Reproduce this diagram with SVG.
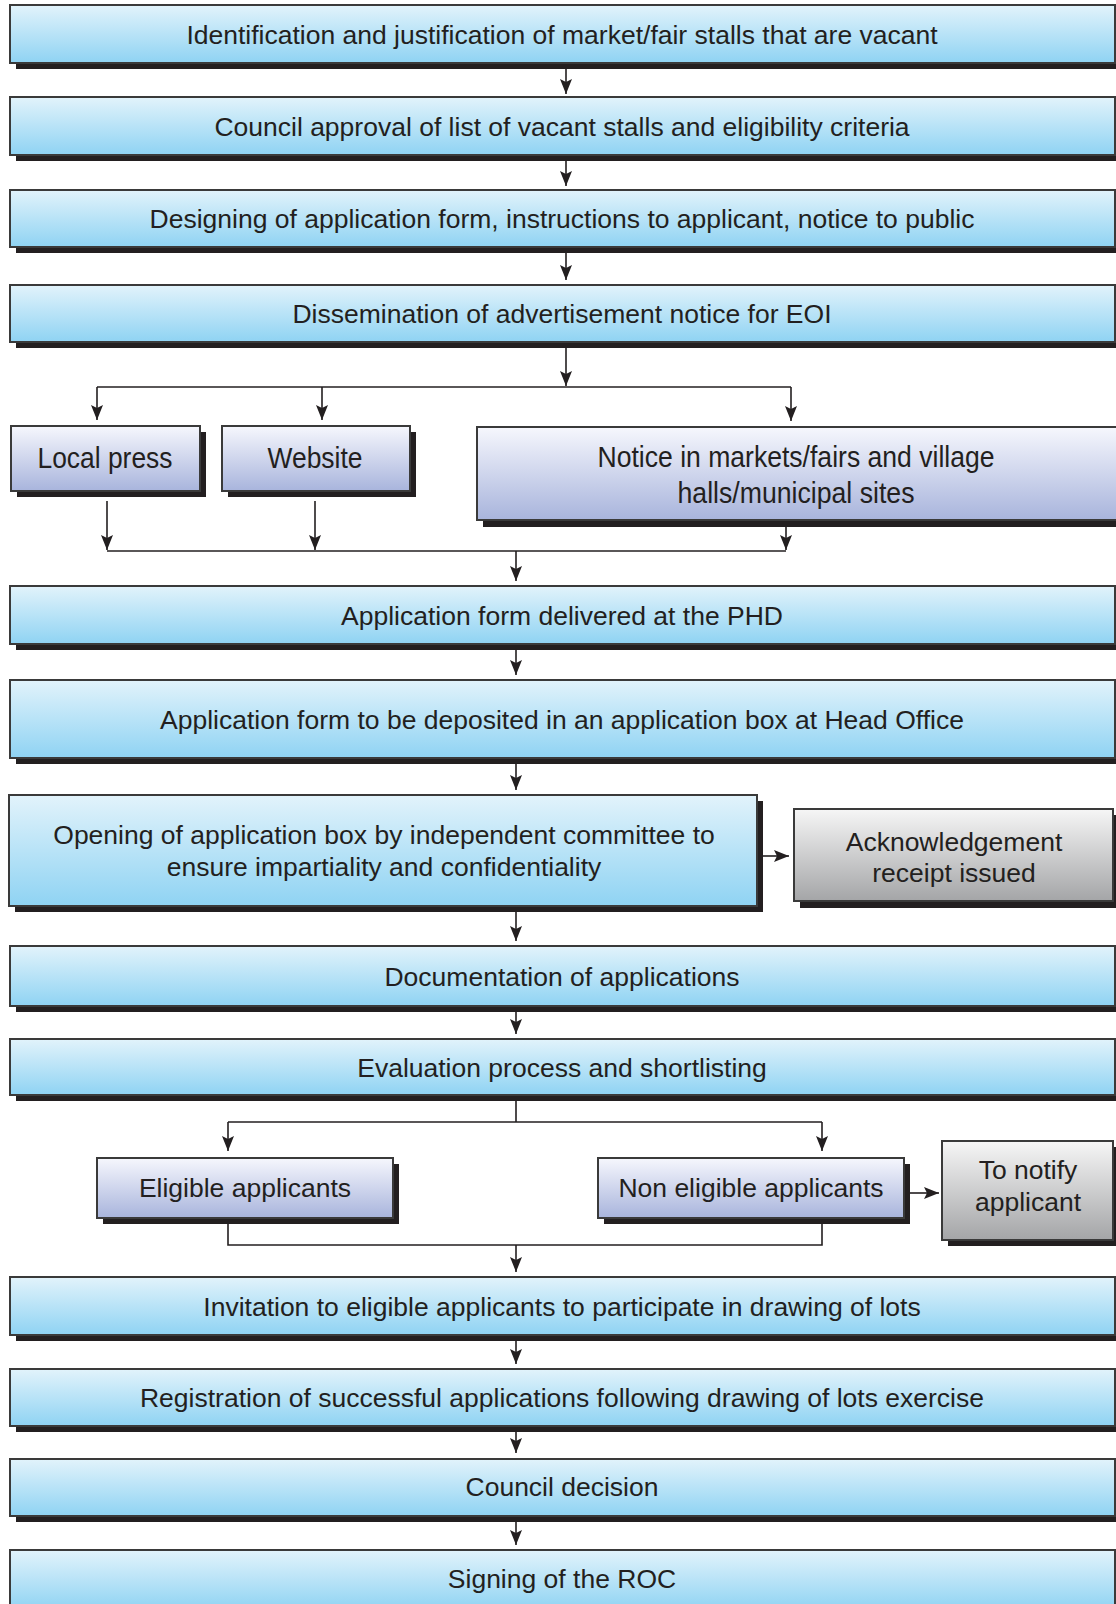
<svg xmlns="http://www.w3.org/2000/svg" width="1116" height="1604" viewBox="0 0 1116 1604">
<style>
.sh{fill:#231f20}
.bx{stroke:#3a3a3a;stroke-width:2}
.blue{fill:url(#gBlue)}
.lav{fill:url(#gLav)}
.gray{fill:url(#gGray)}
text{font-family:"Liberation Sans",Arial,sans-serif;font-size:26.5px;fill:#231f20;text-anchor:middle}
.cn{font-size:29px}
.ln{fill:none;stroke:#231f20;stroke-width:1.6}
.ar{fill:none;stroke:#231f20;stroke-width:1.6;marker-end:url(#ah)}
</style>
<defs>
<linearGradient id="gBlue" x1="0" y1="0" x2="0" y2="1"><stop offset="0" stop-color="#e2f3fb"/><stop offset="1" stop-color="#8fd3f3"/></linearGradient>
<linearGradient id="gLav" x1="0" y1="0" x2="0" y2="1"><stop offset="0" stop-color="#f6f7fd"/><stop offset="1" stop-color="#a8b4dc"/></linearGradient>
<linearGradient id="gGray" x1="0" y1="0" x2="0" y2="1"><stop offset="0" stop-color="#f6f6f6"/><stop offset="1" stop-color="#a4a5a7"/></linearGradient>
<marker id="ah" markerUnits="userSpaceOnUse" markerWidth="15" markerHeight="12" viewBox="0 0 15 12" refX="15" refY="6" orient="auto"><path d="M0,0 L15,6 L0,12 L3,6 Z" fill="#231f20"/></marker>
</defs>

<g id="connectors">
<path class="ar" d="M566,69 V94"/>
<path class="ar" d="M566,161 V186"/>
<path class="ar" d="M566,253 V280"/>
<path class="ar" d="M566,348 V386"/>
<path class="ln" d="M97,387 H791"/>
<path class="ar" d="M97,387 V420"/>
<path class="ar" d="M322,387 V420"/>
<path class="ar" d="M791,387 V421"/>
<path class="ar" d="M107,501 V550"/>
<path class="ar" d="M315,501 V550"/>
<path class="ar" d="M786,527 V550"/>
<path class="ln" d="M107,551 H786"/>
<path class="ar" d="M516,551 V581"/>
<path class="ar" d="M516,650 V675"/>
<path class="ar" d="M516,764 V790"/>
<path class="ar" d="M763,856 H789"/>
<path class="ar" d="M516,912 V941"/>
<path class="ar" d="M516,1012 V1034"/>
<path class="ln" d="M516,1101 V1122 M228,1122 H822"/>
<path class="ar" d="M228,1122 V1151"/>
<path class="ar" d="M822,1122 V1151"/>
<path class="ar" d="M910,1193 H939"/>
<path class="ln" d="M228,1224 V1245 H822 V1224"/>
<path class="ar" d="M516,1245 V1272"/>
<path class="ar" d="M516,1341 V1364"/>
<path class="ar" d="M516,1432 V1453"/>
<path class="ar" d="M516,1522 V1545"/>
</g>

<g id="n1"><rect class="sh" x="16" y="11" width="1105" height="58"/><rect class="bx blue" x="10" y="5" width="1105" height="58"/><text x="562" y="43.5">Identification and justification of market/fair stalls that are vacant</text></g>
<g id="n2"><rect class="sh" x="16" y="103" width="1105" height="58"/><rect class="bx blue" x="10" y="97" width="1105" height="58"/><text x="562" y="135.5">Council approval of list of vacant stalls and eligibility criteria</text></g>
<g id="n3"><rect class="sh" x="16" y="196" width="1105" height="57"/><rect class="bx blue" x="10" y="190" width="1105" height="57"/><text x="562" y="228">Designing of application form, instructions to applicant, notice to public</text></g>
<g id="n4"><rect class="sh" x="16" y="291" width="1105" height="57"/><rect class="bx blue" x="10" y="285" width="1105" height="57"/><text x="562" y="323">Dissemination of advertisement notice for EOI</text></g>

<g id="n5"><rect class="sh" x="17" y="432" width="189" height="65"/><rect class="bx lav" x="11" y="426" width="189" height="65"/><text class="cn" x="105" y="468" textLength="135" lengthAdjust="spacingAndGlyphs">Local press</text></g>
<g id="n6"><rect class="sh" x="228" y="432" width="188" height="65"/><rect class="bx lav" x="222" y="426" width="188" height="65"/><text class="cn" x="315" y="468" textLength="95" lengthAdjust="spacingAndGlyphs">Website</text></g>
<g id="n7"><rect class="sh" x="483" y="433" width="640" height="94"/><rect class="bx lav" x="477" y="427" width="640" height="93"/><text class="cn" x="796" y="467" textLength="397" lengthAdjust="spacingAndGlyphs">Notice in markets/fairs and village</text><text class="cn" x="796" y="503" textLength="237" lengthAdjust="spacingAndGlyphs">halls/municipal sites</text></g>

<g id="n8"><rect class="sh" x="16" y="592" width="1105" height="58"/><rect class="bx blue" x="10" y="586" width="1105" height="58"/><text x="562" y="625">Application form delivered at the PHD</text></g>
<g id="n9"><rect class="sh" x="16" y="686" width="1105" height="78"/><rect class="bx blue" x="10" y="680" width="1105" height="78"/><text x="562" y="729">Application form to be deposited in an application box at Head Office</text></g>
<g id="n10"><rect class="sh" x="15" y="801" width="748" height="111"/><rect class="bx blue" x="9" y="795" width="748" height="111"/><text x="384" y="844">Opening of application box by independent committee to</text><text x="384" y="876">ensure impartiality and confidentiality</text></g>
<g id="n11"><rect class="sh" x="800" y="815" width="319" height="93"/><rect class="bx gray" x="794" y="809" width="319" height="92"/><text x="954" y="851">Acknowledgement</text><text x="954" y="882">receipt issued</text></g>
<g id="n12"><rect class="sh" x="16" y="952" width="1105" height="60"/><rect class="bx blue" x="10" y="946" width="1105" height="60"/><text x="562" y="985.5">Documentation of applications</text></g>
<g id="n13"><rect class="sh" x="16" y="1045" width="1105" height="56"/><rect class="bx blue" x="10" y="1039" width="1105" height="56"/><text x="562" y="1077">Evaluation process and shortlisting</text></g>
<g id="n14"><rect class="sh" x="103" y="1164" width="296" height="60"/><rect class="bx lav" x="97" y="1158" width="296" height="60"/><text x="245" y="1197">Eligible applicants</text></g>
<g id="n15"><rect class="sh" x="604" y="1164" width="306" height="60"/><rect class="bx lav" x="598" y="1158" width="306" height="60"/><text x="751" y="1197">Non eligible applicants</text></g>
<g id="n16"><rect class="sh" x="948" y="1147" width="171" height="99"/><rect class="bx gray" x="942" y="1141" width="171" height="99"/><text x="1028" y="1179">To notify</text><text x="1028" y="1211">applicant</text></g>
<g id="n17"><rect class="sh" x="16" y="1283" width="1105" height="58"/><rect class="bx blue" x="10" y="1277" width="1105" height="58"/><text x="562" y="1316">Invitation to eligible applicants to participate in drawing of lots</text></g>
<g id="n18"><rect class="sh" x="16" y="1375" width="1105" height="57"/><rect class="bx blue" x="10" y="1369" width="1105" height="57"/><text x="562" y="1407">Registration of successful applications following drawing of lots exercise</text></g>
<g id="n19"><rect class="sh" x="16" y="1465" width="1105" height="57"/><rect class="bx blue" x="10" y="1459" width="1105" height="57"/><text x="562" y="1496">Council decision</text></g>
<g id="n20"><rect class="sh" x="16" y="1556" width="1105" height="58"/><rect class="bx blue" x="10" y="1550" width="1105" height="60"/><text x="562" y="1588">Signing of the ROC</text></g>
</svg>
